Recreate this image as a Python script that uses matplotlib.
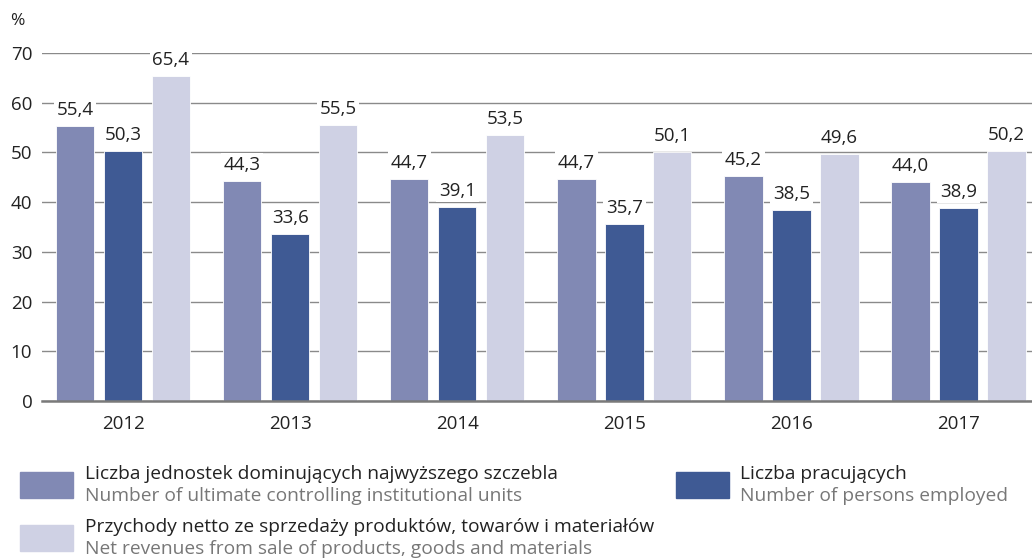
import numpy as np
import matplotlib.pyplot as plt
from matplotlib.patches import Rectangle

plt.rcParams['font.family'] = ['Open Sans', 'DejaVu Sans']

years = ['2012', '2013', '2014', '2015', '2016', '2017']
units = [55.4, 44.3, 44.7, 44.7, 45.2, 44.0]
employed = [50.3, 33.6, 39.1, 35.7, 38.5, 38.9]
revenues = [65.4, 55.5, 53.5, 50.1, 49.6, 50.2]

series = [units, employed, revenues]
colors = ['#8189b4', '#3f5a94', '#cfd1e4']
legend_pl = ['Liczba jednostek dominujących najwyższego szczebla',
             'Liczba pracujących',
             'Przychody netto ze sprzedaży produktów, towarów i materiałów']
legend_en = ['Number of ultimate controlling institutional units',
             'Number of persons employed',
             'Net revenues from sale of products, goods and materials']

fig = plt.figure(figsize=(10.32, 5.6), dpi=100)
ax = fig.add_axes([42/1032, 159/560, 1 - 42/1032, (401-53)/560])

x = np.arange(len(years))
w = 0.23
step = 0.287
for i, (vals, c) in enumerate(zip(series, colors)):
    pos = x + (i - 1) * step
    ax.bar(pos, vals, width=w, color=c, edgecolor='white', linewidth=0.6, zorder=3)
    for px, v in zip(pos, vals):
        ax.annotate(f'{v:.1f}'.replace('.', ','), (px, v), xytext=(0, 5),
                    textcoords='offset points', ha='center', va='bottom',
                    fontsize=13.5, color='#222222', zorder=4, annotation_clip=False,
                    bbox=dict(boxstyle='square,pad=0.15', fc='white', ec='none'))

ax.set_xlim(-0.485, 5.44)
ax.set_ylim(0, 70)
ax.set_yticks(range(0, 71, 10))
ax.set_xticks(x)
ax.set_xticklabels(years)
ax.yaxis.grid(True, color='#8a8a8a', linewidth=1.0, zorder=0)
ax.set_axisbelow(True)
for s in ['top', 'right', 'left']:
    ax.spines[s].set_visible(False)
ax.spines['bottom'].set_color('#7a7a7a')
ax.spines['bottom'].set_linewidth(1.8)
ax.spines['bottom'].set_zorder(5)
ax.tick_params(axis='y', length=0, pad=7, labelsize=13.5, labelcolor='#222222')
ax.tick_params(axis='x', length=0, pad=10, labelsize=13.5, labelcolor='#222222')
fig.text(10/1032, 1 - 21/560, '%', fontsize=12.5, color='#222222', va='center', ha='left')

# legend: (patch x, row centre y, series index, text x)
items = [(20, 485, 0, 85), (676, 485, 1, 740), (20, 538, 2, 85)]
for lx, ly, k, tx in items:
    fig.patches.append(Rectangle((lx/1032, 1 - (ly+13)/560), 53/1032, 26/560,
                                 transform=fig.transFigure, color=colors[k]))
    fig.text(tx/1032, 1 - (ly-11)/560, legend_pl[k],
             fontsize=13.8, color='#222222', va='center', ha='left')
    fig.text(tx/1032, 1 - (ly+11)/560, legend_en[k],
             fontsize=13.8, color='#777777', va='center', ha='left')

fig.savefig('out.png', dpi=100)
